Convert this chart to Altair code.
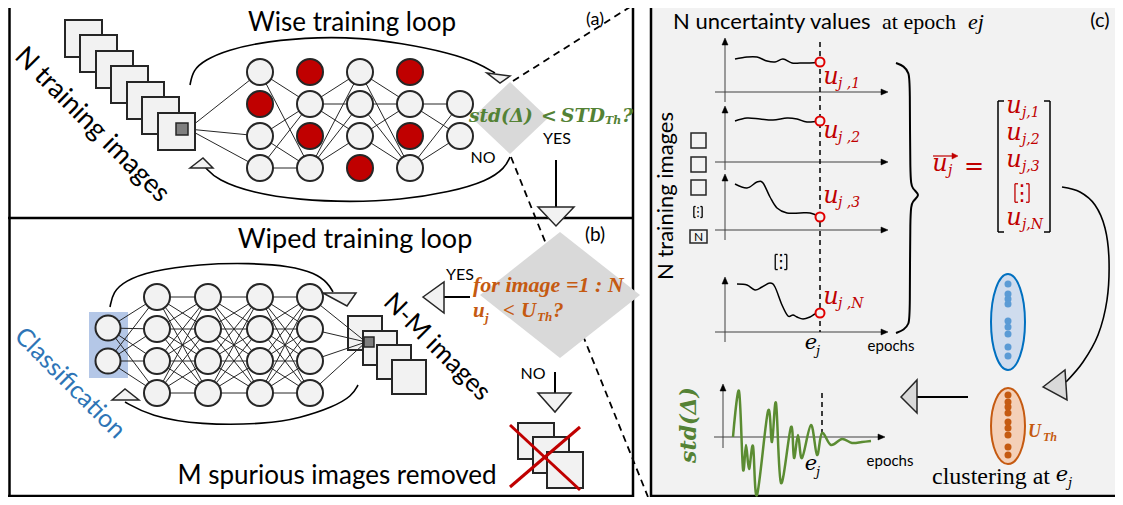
import altair as alt
import pandas as pd

# ---------------- view window (reference pixel coordinates) ----------------
X0, X1, Y0, Y1 = 8, 1115, 8, 497

# ---------------- data ----------------
GRAY_FILL = "#f2f2f2"
DIAMOND = "#d9d9d9"
INK = "#262626"
RED = "#c00000"
GREEN = "#548235"
ORANGE = "#c55a11"
BLUE_TXT = "#2e75b6"

# panel (a) network (dropout: 1 = red / dropped)
NODE_A_X = [260, 310, 360, 410, 460]
NODE_A_Y = [72, 104, 136, 168]
NODE_A_RED = [[0, 1, 0, 0], [1, 0, 1, 0], [0, 0, 0, 1], [1, 0, 1, 0], [None, 0, 0, None]]
NODE_A_D = 26
INPUT_A = (188, 129)

# panel (b) network
NODE_B_X = [157, 208, 260, 310]
NODE_B_Y = [297, 329, 361, 393]
OUT_B_X = 108
OUT_B_Y = [328, 361]
NODE_B_D = 26
INPUT_B = (366, 342)

# image stacks (top-left corners) and sizes
STACK_A = [(65, 20), (80, 35), (96, 51), (111, 66), (127, 82), (142, 97), (158, 113)]
STACK_A_SIZE = 37
STACK_B = [(348, 316), (363, 331), (377, 345), (392, 360)]
STACK_B_SIZE = 34
STACK_X = [(518, 423), (533, 437), (547, 452)]
STACK_X_SIZE = 36
DARK_SQ = [(176, 123, 188, 135), (364, 337, 374, 347)]
COL_SQ = [(691, 133, 706, 148), (691, 157, 706, 172), (691, 180, 706, 195)]
BOX_N = (690, 230, 707, 243)
HIGHLIGHT = (89, 312, 128, 378)
PANEL_C = (651, 0, 1123, 500)

# loops
LOOP_A_TOP = [(190, 85), (193, 70), (205, 60), (227, 50), (267, 41), (320, 37), (360, 38),
              (400, 43), (450, 53), (478, 63), (495, 73)]
LOOP_A_BOT = [(205, 167), (217, 180), (253, 193), (300, 200), (350, 202), (400, 200),
              (450, 192), (487, 181), (505, 168), (510, 157)]
LOOP_B_TOP = [(110, 307), (113, 292), (125, 281), (150, 271), (200, 264), (250, 263),
              (290, 266), (315, 273), (328, 283), (333, 292)]
LOOP_B_BOT = [(125, 402), (150, 416), (200, 425), (267, 424), (300, 418), (333, 407),
              (352, 396), (358, 385)]

# triangles (vertices)
TRIS_LIGHT = [
    [(487, 73), (510, 76), (500, 83)],
    [(190, 168), (203, 158), (213, 168)],
    [(538, 207), (574, 207), (556, 226)],
    [(323, 293), (356, 293), (347, 306)],
    [(112, 400), (125, 389), (139, 400)],
    [(423, 297), (444, 282), (444, 313)],
    [(538, 393), (571, 393), (555, 412)],
]
TRIS_DARK = [
    [(1043, 387), (1065, 370), (1067, 400)],
    [(901, 397), (917, 380), (917, 413)],
]
# diamonds: center x, center y, half width, half height
DIAMONDS = [(510, 118, 38, 36), (560, 295, 80, 63)]

# panel (c) mini plots
MINI_Y_AXES = [(725, 102, 42), (725, 170, 110), (725, 240, 178), (725, 342, 281), (723, 448, 388)]
MINI_X_AXES = [(715, 884, 92), (715, 884, 162), (715, 884, 230), (715, 884, 332), (714, 881, 437)]
CURVE_1 = [(735, 59), (747, 57), (757, 57), (767, 61), (775, 62), (783, 59), (792, 63),
           (800, 63), (810, 63), (820, 62)]
CURVE_2 = [(735, 121), (747, 118), (760, 119), (773, 120), (787, 118), (797, 119),
           (807, 122), (820, 121)]
CURVE_3 = [(735, 184), (747, 188), (757, 182), (763, 183), (770, 197), (777, 208),
           (787, 213), (800, 213), (810, 213), (820, 217)]
CURVE_N = [(737, 284), (747, 285), (755, 290), (762, 287), (770, 283), (775, 287),
           (782, 305), (788, 316), (793, 315), (797, 317), (803, 319), (810, 317),
           (815, 314), (820, 313)]
STD_CURVE = [(733, 437), (739, 391), (743, 469), (746, 445), (749, 469), (753, 446),
             (757, 495), (768, 411), (772, 442), (776, 403), (781, 483), (791, 427),
             (794, 458), (798, 435), (802, 458), (811, 425), (817, 455), (822, 433),
             (831, 445), (842, 439), (852, 443), (862, 442), (871, 441)]
U_MARKERS = [(820, 62), (820, 121), (820, 217), (820, 313)]
BRACE = [(896, 63), (904, 66), (909, 73), (910, 82), (910, 180), (912, 189), (921, 195),
         (912, 201), (910, 210), (910, 315), (909, 324), (904, 330), (896, 333)]
ARC_C = [(1062, 187), (1080, 192), (1095, 205), (1105, 228), (1109, 260), (1107, 300),
         (1098, 335), (1083, 362), (1066, 382)]
BLUE_DOTS_Y = [284, 294, 299, 304, 321, 327, 334, 347, 356]
ORANGE_DOTS_Y = [395, 402, 407, 413, 422, 428, 435, 447, 455]
DOTS_X = 1008
ELLIPSES = [(1008, 322, 17, 48, "#cfdcee", "#0070c0"), (1008, 426, 17, 38, "#f4d0b8", ORANGE)]

# straight lines: x, y, x2, y2
BORDERS = [(9.5, 0, 9.5, 496), (633, 0, 633, 503), (8, 218, 633, 218), (8, 496, 633, 496),
           (651, 0, 651, 500), (651, 496, 1123, 496)]
BIG_DASHED = [(513, 81, 641, 0), (511, 157, 648, 497)]
ARROW_LINES = [(556, 160, 556, 207), (444, 297, 470, 297), (555, 372, 555, 393),
               (917, 397, 968, 397)]
BRACKETS = [(998, 101, 998, 232), (998, 101, 1004, 101), (998, 232, 1004, 232),
            (1050, 101, 1050, 232), (1044, 101, 1050, 101), (1044, 232, 1050, 232)]
RED_X = [(510, 425, 580, 490), (580, 427, 510, 487)]
C_DASHED = [(820, 42, 820, 332), (822, 393, 822, 437)]

# texts: x, y, text, size, colour, angle
T_SANS = [
    (352, 23, "Wise training loop", 26, "black", 0),
    (595, 20, "(a)", 18, "black", 0),
    (92, 125, "N training images", 27, "black", 45),
    (557, 139, "YES", 16, "black", 0),
    (483, 158, "NO", 16, "black", 0),
    (355, 240, "Wiped training loop", 27, "black", 0),
    (595, 235, "(b)", 19, "black", 0),
    (460, 275, "YES", 16, "black", 0),
    (533, 374, "NO", 16, "black", 0),
    (437, 347, "N-M images", 26, "black", 45),
    (337, 476, "M spurious images removed", 26, "black", 0),
    (1100, 21, "(c)", 20, "black", 0),
    (666, 196, "N training images", 22, "black", 270),
    (891, 346, "epochs", 15, "black", 0),
    (890, 461, "epochs", 15, "black", 0),
    (698.5, 237, "N", 12, "black", 0),
    (70, 383, "Classification", 25, BLUE_TXT, 45),
]
T_SANS_LEFT = [(673, 22, "N uncertainty values", 22, "black", 0)]
T_SERIF_LEFT = [(882, 22, "at epoch", 22, "black", 0), (932, 477, "clustering at", 24, "black", 0)]
T_SERIF_IT_LEFT = [(968, 22, "ej", 22, "black", 0)]
T_MATH_IT = [
    (831, 77, "u", 24, RED, 0), (831, 131, "u", 24, RED, 0), (831, 196, "u", 24, RED, 0),
    (831, 297, "u", 24, RED, 0), (1014, 106, "u", 24, RED, 0), (1014, 133, "u", 24, RED, 0),
    (1014, 160, "u", 24, RED, 0), (1014, 218, "u", 24, RED, 0), (940, 164, "u", 24, RED, 0),
    (811, 343, "e", 21, "black", 0), (811, 464, "e", 21, "black", 0),
    (1062, 475, "e", 21, "black", 0),
]
T_MATH_SUB = [
    (838, 84, "j ,1", 14, RED, 0), (838, 138, "j ,2", 14, RED, 0), (838, 203, "j ,3", 14, RED, 0),
    (838, 304, "j ,N", 14, RED, 0), (1022, 113, "j,1", 14, RED, 0), (1022, 140, "j,2", 14, RED, 0),
    (1022, 167, "j,3", 14, RED, 0), (1022, 225, "j,N", 14, RED, 0), (948, 171, "j", 14, RED, 0),
    (816, 351, "j", 13, "black", 0), (816, 472, "j", 13, "black", 0), (1068, 483, "j", 13, "black", 0),
]
T_MATH_EQ = [(974, 167, "=", 24, RED, 0)]
T_GREEN_LEFT = [(469, 116, "std(Δ)", 18.5, GREEN, 0), (605, 121, "Th", 11, GREEN, 0),
                (622, 116, "?", 19, GREEN, 0)]
T_GREEN_CENTER = [(549, 116, "<", 19, GREEN, 0), (689, 425, "std(Δ)", 22, GREEN, 270)]
T_GREEN_RIGHT = [(605, 116, "STD", 19, GREEN, 0)]
T_ORANGE_LEFT = [(473, 285, "for image =1 : N", 22, ORANGE, 0),
                 (473, 311, "u", 21, ORANGE, 0),
                 (485, 318, "j", 13, ORANGE, 0), (521, 311, "U", 21, ORANGE, 0),
                 (537, 317, "Th", 13, ORANGE, 0), (553, 311, "?", 21, ORANGE, 0),
                 (1028, 432, "U", 18, ORANGE, 0), (1043, 437, "Th", 12, ORANGE, 0)]
T_ORANGE_CENTER = [(509, 311, "<", 21, ORANGE, 0)]
# "[⋮]" marks: centre x, centre y, size, colour
DOT_MARKS = [(781, 262, 18, "black"), (1022, 193, 22, RED), (698, 212, 13, "black")]


# ---------------- helpers ----------------
def X(f="x"):
    return alt.X(f"{f}:Q", scale=alt.Scale(domain=[X0, X1], nice=False, zero=False), axis=None)


def Y(f="y"):
    return alt.Y(f"{f}:Q", scale=alt.Scale(domain=[Y0, Y1], nice=False, zero=False, reverse=True), axis=None)


def rules(rows, color, width, dash=None):
    df = pd.DataFrame(rows, columns=["x", "y", "x2", "y2"])
    df["c"] = color
    df["w"] = width
    m = alt.Chart(df).mark_rule(strokeDash=dash) if dash else alt.Chart(df).mark_rule()
    return m.encode(x=X(), y=Y(), x2="x2:Q", y2="y2:Q",
                    color=alt.Color("c:N", scale=None),
                    strokeWidth=alt.StrokeWidth("w:Q", scale=None))


def polylines(lines, interp):
    rows = []
    for i, (pts, c, w) in enumerate(lines):
        for j, (x, y) in enumerate(pts):
            rows.append(dict(id=i, o=j, x=x, y=y, c=c, w=w))
    return alt.Chart(pd.DataFrame(rows)).mark_line(interpolate=interp).encode(
        x=X(), y=Y(), detail="id:N", order="o:Q",
        color=alt.Color("c:N", scale=None),
        strokeWidth=alt.StrokeWidth("w:Q", scale=None))


def rects(rows):
    df = pd.DataFrame(rows, columns=["x", "y", "x2", "y2", "f", "k", "w"])
    return alt.Chart(df).mark_rect().encode(
        x=X(), y=Y(), x2="x2:Q", y2="y2:Q",
        fill=alt.Fill("f:N", scale=None), stroke=alt.Stroke("k:N", scale=None),
        strokeWidth=alt.StrokeWidth("w:Q", scale=None))


def symbols(rows):
    df = pd.DataFrame(rows, columns=["x", "y", "s", "z", "f", "k", "w"])
    return alt.Chart(df).mark_point(filled=True, opacity=1).encode(
        x=X(), y=Y(), shape=alt.Shape("s:N", scale=None), size=alt.Size("z:Q", scale=None),
        fill=alt.Fill("f:N", scale=None), stroke=alt.Stroke("k:N", scale=None),
        strokeWidth=alt.StrokeWidth("w:Q", scale=None))


def texts(rows, font, style="normal", weight="normal", align="center"):
    df = pd.DataFrame(rows, columns=["x", "y", "t", "z", "c", "a"])
    return alt.Chart(df).mark_text(font=font, fontStyle=style, fontWeight=weight,
                                   align=align, baseline="middle").encode(
        x=X(), y=Y(), text="t:N", size=alt.Size("z:Q", scale=None),
        color=alt.Color("c:N", scale=None), angle=alt.Angle("a:Q", scale=None))


def poly_symbol(verts, fill, stroke, w):
    cx = sum(v[0] for v in verts) / len(verts)
    cy = sum(v[1] for v in verts) / len(verts)
    path = "M" + " L".join(f"{x - cx:.2f},{y - cy:.2f}" for x, y in verts) + " Z"
    return (cx, cy, path, 4, fill, stroke, w)


def ellipse_symbol(cx, cy, rx, ry, fill, stroke, w):
    k = 0.5523
    p = (f"M0,{-ry} C{k*rx:.2f},{-ry} {rx},{-k*ry:.2f} {rx},0 "
         f"C{rx},{k*ry:.2f} {k*rx:.2f},{ry} 0,{ry} "
         f"C{-k*rx:.2f},{ry} {-rx},{k*ry:.2f} {-rx},0 "
         f"C{-rx},{-k*ry:.2f} {-k*rx:.2f},{-ry} 0,{-ry} Z")
    return (cx, cy, p, 4, fill, stroke, w)


def bracket_lines(x, y, s):
    d, h, t = 0.32 * s, 0.42 * s, 0.14 * s
    return [(x - d, y - h, x - d, y + h), (x - d, y - h, x - d + t, y - h), (x - d, y + h, x - d + t, y + h),
            (x + d, y - h, x + d, y + h), (x + d - t, y - h, x + d, y - h), (x + d - t, y + h, x + d, y + h)]


# ---------------- build geometry from data ----------------
active_a = [[r for r, v in enumerate(col) if v == 0] for col in NODE_A_RED]
conn_a = [(INPUT_A[0], INPUT_A[1], NODE_A_X[0], NODE_A_Y[r]) for r in active_a[0]]
for c in range(len(NODE_A_X) - 1):
    for r1 in active_a[c]:
        for r2 in active_a[c + 1]:
            conn_a.append((NODE_A_X[c], NODE_A_Y[r1], NODE_A_X[c + 1], NODE_A_Y[r2]))

conn_b = [(OUT_B_X, y1, NODE_B_X[0], y2) for y1 in OUT_B_Y for y2 in NODE_B_Y]
for c in range(len(NODE_B_X) - 1):
    for y1 in NODE_B_Y:
        for y2 in NODE_B_Y:
            conn_b.append((NODE_B_X[c], y1, NODE_B_X[c + 1], y2))
conn_b_img = [(NODE_B_X[-1], y, INPUT_B[0], INPUT_B[1]) for y in NODE_B_Y]

sq_rows = []
for (x, y) in STACK_A:
    sq_rows.append((x, y, x + STACK_A_SIZE, y + STACK_A_SIZE, GRAY_FILL, INK, 2))
for (x, y) in STACK_B:
    sq_rows.append((x, y, x + STACK_B_SIZE, y + STACK_B_SIZE, GRAY_FILL, INK, 2))
for (x, y) in STACK_X:
    sq_rows.append((x, y, x + STACK_X_SIZE, y + STACK_X_SIZE, GRAY_FILL, INK, 2))
for (x, y, x2, y2) in COL_SQ:
    sq_rows.append((x, y, x2, y2, "transparent", INK, 1.5))
sq_rows.append(BOX_N + ("transparent", INK, 1.5))
dark_rows = [d + ("#7f7f7f", INK, 1.5) for d in DARK_SQ]

poly_rows = [(cx, cy, f"M0,{-hh} L{hw},0 L0,{hh} L{-hw},0 Z", 4, DIAMOND, "transparent", 0)
             for (cx, cy, hw, hh) in DIAMONDS]
poly_rows += [poly_symbol(t, GRAY_FILL, INK, 1.5) for t in TRIS_LIGHT]
poly_rows += [poly_symbol(t, DIAMOND, INK, 1.5) for t in TRIS_DARK]
poly_rows += [ellipse_symbol(cx, cy, rx, ry, f, k, 2) for (cx, cy, rx, ry, f, k) in ELLIPSES]
for (x, y1, y2) in MINI_Y_AXES:
    poly_rows.append(poly_symbol([(x, y2 - 4), (x + 3, y2 + 3), (x - 3, y2 + 3)], "black", "black", 0.5))
for (x1, x2, y) in MINI_X_AXES:
    poly_rows.append(poly_symbol([(x2 + 4, y), (x2 - 3, y - 3), (x2 - 3, y + 3)], "black", "black", 0.5))
poly_rows.append(poly_symbol([(958, 156), (952, 153), (952, 159)], RED, RED, 0.5))

node_rows = []
for c, xc in enumerate(NODE_A_X):
    for r, v in enumerate(NODE_A_RED[c]):
        if v is None:
            continue
        node_rows.append((xc, NODE_A_Y[r], "circle", NODE_A_D ** 2, RED if v else GRAY_FILL, INK, 2))
for xc in NODE_B_X:
    for yc in NODE_B_Y:
        node_rows.append((xc, yc, "circle", NODE_B_D ** 2, GRAY_FILL, INK, 2))
for yc in OUT_B_Y:
    node_rows.append((OUT_B_X, yc, "circle", 25 ** 2, GRAY_FILL, INK, 2))
for (x, y) in U_MARKERS:
    node_rows.append((x, y, "circle", 81, GRAY_FILL, "#e00000", 2))
for y in BLUE_DOTS_Y:
    node_rows.append((DOTS_X, y, "circle", 49, "#5b9bd5", "transparent", 0))
for y in ORANGE_DOTS_Y:
    node_rows.append((DOTS_X, y, "circle", 49, ORANGE, "transparent", 0))

axes_rows = [(x, y1, x, y2) for (x, y1, y2) in MINI_Y_AXES] + [(x1, y, x2, y) for (x1, x2, y) in MINI_X_AXES]

bracket_layers = [rules(bracket_lines(x, y, s), c, 1.3) for (x, y, s, c) in DOT_MARKS]
T_VDOTS = [(x, y, "⋮", s, c, 0) for (x, y, s, c) in DOT_MARKS]

layers = [
    rects([PANEL_C + (GRAY_FILL, "transparent", 0), HIGHLIGHT + ("#b4c7e7", "transparent", 0)]),
    rules(BORDERS, "black", 2.5),
    rules(BIG_DASHED, "black", 1.8, dash=[7, 5]),
    rules(conn_a, INK, 1),
    rules(conn_b, INK, 1),
    polylines([(LOOP_A_TOP, "black", 1.6), (LOOP_A_BOT, "black", 1.6),
               (LOOP_B_TOP, "black", 1.6), (LOOP_B_BOT, "black", 1.6),
               (BRACE, "black", 2)], "basis"),
    polylines([(ARC_C, "black", 1.6)], "cardinal"),
    rules(axes_rows, "#404040", 1),
    rules(C_DASHED, "black", 1.5, dash=[5, 4]),
    polylines([(CURVE_1, "black", 1.5), (CURVE_2, "black", 1.5),
               (CURVE_3, "black", 1.5), (CURVE_N, "black", 1.5)], "cardinal"),
    polylines([(STD_CURVE, "#5b8c32", 2.5)], "cardinal"),
    rules(ARROW_LINES, "black", 2),
    rules(BRACKETS, "black", 1.5),
    rules([(933, 156, 953, 156)], RED, 1.2),
    rules([(557, 247, 561, 247)], INK, 1.2),
    rects(sq_rows),
    rules(conn_b_img, INK, 1),
    rects(dark_rows),
    rules(RED_X, RED, 3),
    symbols(poly_rows),
    symbols(node_rows),
] + bracket_layers + [
    texts(T_SANS, "Lato"),
    texts(T_SANS_LEFT, "Lato", align="left"),
    texts(T_SERIF_LEFT, "Liberation Serif", align="left"),
    texts(T_SERIF_IT_LEFT, "Liberation Serif", style="italic", align="left"),
    texts(T_MATH_IT, "DejaVu Serif", style="italic"),
    texts(T_MATH_SUB, "DejaVu Serif", style="italic", align="left"),
    texts(T_MATH_EQ, "DejaVu Serif"),
    texts(T_GREEN_LEFT, "DejaVu Serif", style="italic", weight="bold", align="left"),
    texts(T_GREEN_CENTER, "DejaVu Serif", style="italic", weight="bold"),
    texts(T_GREEN_RIGHT, "DejaVu Serif", style="italic", weight="bold", align="right"),
    texts(T_ORANGE_LEFT, "Liberation Serif", style="italic", weight="bold", align="left"),
    texts(T_ORANGE_CENTER, "Liberation Serif", style="italic", weight="bold"),
    texts(T_VDOTS, "DejaVu Sans"),
]

chart = alt.layer(*layers).properties(
    width=X1 - X0, height=Y1 - Y0, padding=0,
    autosize=alt.AutoSizeParams(type="none"), background="white",
).configure_view(strokeWidth=0)

chart.save("out.html", embed_options={"renderer": "svg", "actions": False})
